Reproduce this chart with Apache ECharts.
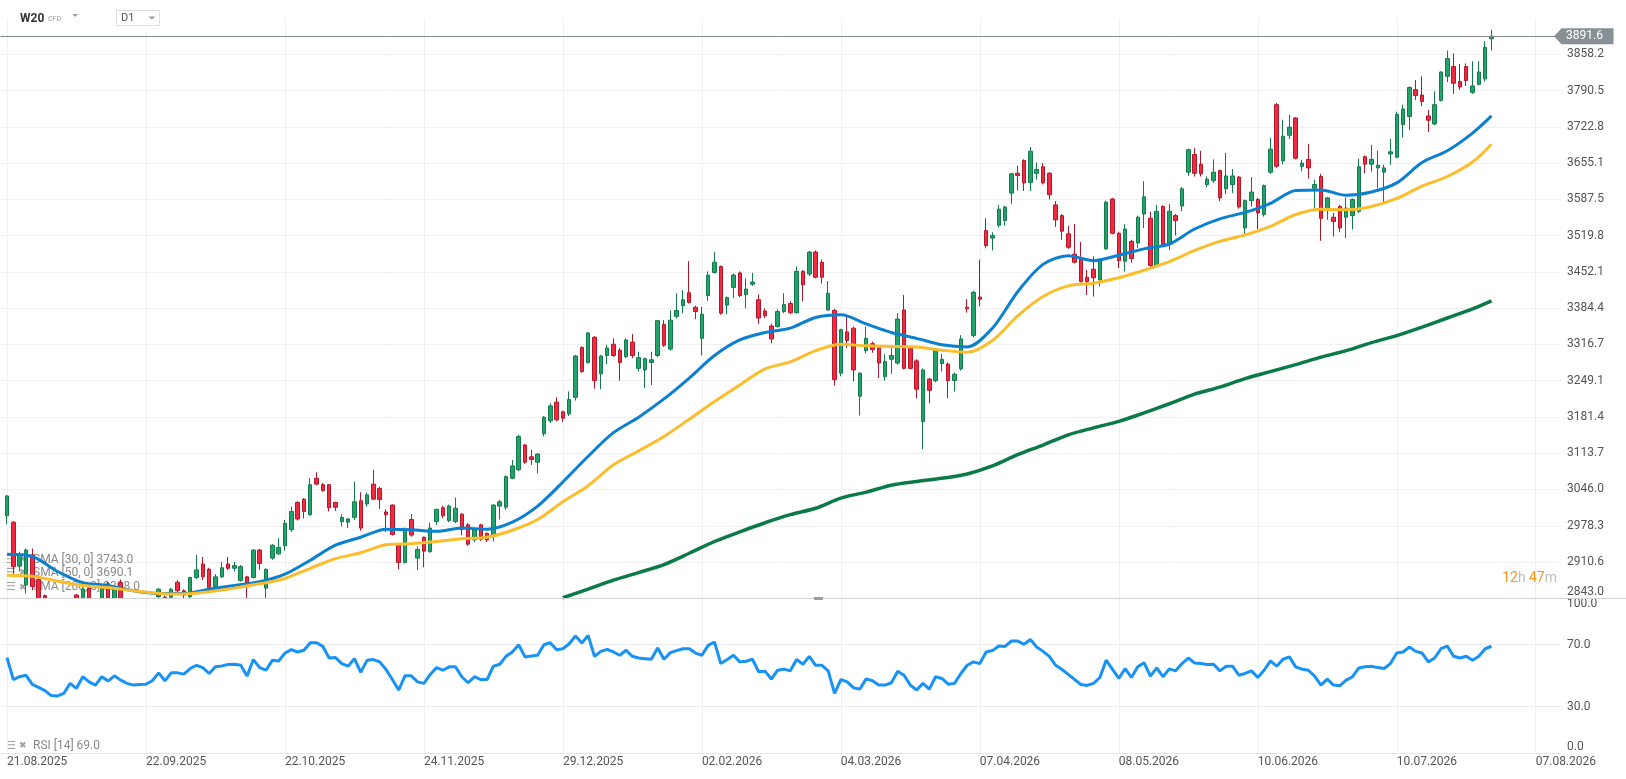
<!DOCTYPE html>
<html>
<head>
<meta charset="utf-8">
<title>W20 D1</title>
<script src="https://cdn.jsdelivr.net/npm/echarts/dist/echarts.min.js"></script>
<style>
  html, body { margin: 0; padding: 0; background: #fff; }
  #chart { width: 1626px; height: 779px; }
</style>
</head>
<body>
<div id="chart"></div>
<script>
// W20 CFD, daily candles 21.08.2025 - 31.07.2026, with SMA 30/50/200 and RSI 14

// [open, close, low, high]
const candles = [
  [2997, 3034, 2981, 3036], [2985, 2902, 2883, 2987], [2903, 2923, 2893, 2930], [2868, 2933, 2852, 2936],
  [2924, 2865, 2858, 2936], [2878, 2835, 2820, 2882], [2848, 2832, 2822, 2850], [2835, 2822, 2810, 2840],
  [2822, 2830, 2812, 2838], [2830, 2818, 2808, 2836], [2818, 2832, 2811, 2840], [2849, 2830, 2822, 2851],
  [2828, 2860, 2825, 2863], [2862, 2835, 2830, 2864], [2835, 2840, 2825, 2842], [2838, 2865, 2832, 2866],
  [2870, 2840, 2835, 2874], [2840, 2864, 2836, 2866], [2872, 2838, 2832, 2878], [2838, 2830, 2822, 2842],
  [2830, 2826, 2818, 2836], [2826, 2834, 2820, 2840], [2834, 2829, 2822, 2838], [2829, 2838, 2825, 2841],
  [2846, 2860, 2843, 2862], [2845, 2838, 2832, 2848], [2845, 2860, 2840, 2862], [2873, 2857, 2852, 2877],
  [2857, 2849, 2843, 2860], [2846, 2882, 2843, 2883], [2882, 2896, 2879, 2924], [2907, 2883, 2877, 2920],
  [2897, 2863, 2858, 2900], [2865, 2883, 2862, 2888], [2883, 2900, 2881, 2911], [2907, 2899, 2896, 2920],
  [2899, 2904, 2893, 2911], [2876, 2902, 2874, 2905], [2883, 2865, 2843, 2885], [2882, 2933, 2880, 2934],
  [2933, 2908, 2896, 2935], [2862, 2897, 2843, 2899], [2918, 2942, 2915, 2944], [2926, 2938, 2924, 2955],
  [2941, 2983, 2932, 2989], [2971, 3005, 2967, 3014], [3022, 2991, 2988, 3024], [3028, 3005, 2992, 3030],
  [2999, 3055, 2997, 3067], [3067, 3056, 3054, 3078], [3055, 3044, 3042, 3058], [3055, 3012, 3005, 3056],
  [3022, 3013, 3006, 3023], [2986, 2994, 2977, 3000], [2985, 2991, 2974, 2993], [2994, 3023, 2989, 3061],
  [3025, 2974, 2969, 3041], [3019, 3036, 3014, 3040], [3056, 3028, 3027, 3083], [3048, 3027, 3010, 3051],
  [3004, 2999, 2967, 3009], [3017, 2962, 2960, 3018], [2943, 2910, 2897, 2945], [2910, 2972, 2908, 2975],
  [2990, 2961, 2958, 3000], [2918, 2934, 2896, 2940], [2957, 2931, 2901, 2958], [2930, 2974, 2928, 2984],
  [2986, 3009, 2980, 3010], [3012, 2997, 2993, 3016], [2988, 3015, 2985, 3018], [2986, 3011, 2983, 3031],
  [3000, 2972, 2961, 3002], [2980, 2944, 2941, 2983], [2952, 2971, 2948, 2974], [2980, 2953, 2950, 2982],
  [2964, 2952, 2948, 2966], [2961, 3017, 2949, 3018], [3015, 3023, 2990, 3027], [3013, 3070, 3008, 3072],
  [3067, 3090, 3065, 3101], [3083, 3145, 3080, 3148], [3129, 3097, 3094, 3131], [3107, 3102, 3092, 3120],
  [3097, 3112, 3076, 3114], [3150, 3181, 3145, 3183], [3174, 3202, 3170, 3207], [3209, 3176, 3173, 3218],
  [3191, 3179, 3172, 3193], [3187, 3214, 3183, 3229], [3218, 3295, 3212, 3297], [3311, 3266, 3264, 3313],
  [3283, 3338, 3281, 3340], [3330, 3249, 3234, 3332], [3262, 3295, 3233, 3297], [3296, 3310, 3280, 3316],
  [3317, 3296, 3293, 3328], [3306, 3283, 3249, 3310], [3294, 3325, 3291, 3328], [3321, 3296, 3291, 3336],
  [3272, 3292, 3266, 3303], [3269, 3290, 3235, 3292], [3283, 3288, 3241, 3303], [3296, 3361, 3293, 3362],
  [3354, 3315, 3312, 3362], [3308, 3362, 3305, 3380], [3369, 3380, 3365, 3412], [3389, 3400, 3375, 3418],
  [3413, 3395, 3393, 3472], [3386, 3378, 3364, 3389], [3328, 3373, 3296, 3387], [3408, 3446, 3398, 3453],
  [3451, 3470, 3449, 3489], [3462, 3375, 3372, 3464], [3390, 3404, 3373, 3406], [3423, 3446, 3403, 3449],
  [3450, 3408, 3405, 3453], [3410, 3420, 3384, 3440], [3429, 3433, 3426, 3450], [3400, 3366, 3355, 3410],
  [3379, 3370, 3366, 3384], [3351, 3327, 3319, 3355], [3350, 3378, 3348, 3382], [3378, 3391, 3375, 3412],
  [3393, 3376, 3373, 3397], [3376, 3453, 3374, 3462], [3453, 3428, 3397, 3455], [3448, 3489, 3444, 3491],
  [3489, 3442, 3440, 3492], [3470, 3442, 3430, 3475], [3381, 3412, 3379, 3435], [3380, 3251, 3240, 3383],
  [3263, 3344, 3257, 3346], [3340, 3324, 3310, 3372], [3347, 3269, 3248, 3350], [3220, 3263, 3184, 3265],
  [3305, 3328, 3300, 3350], [3318, 3307, 3301, 3322], [3310, 3282, 3254, 3313], [3257, 3285, 3249, 3299],
  [3289, 3296, 3262, 3310], [3282, 3364, 3279, 3375], [3381, 3272, 3270, 3409], [3310, 3272, 3270, 3313],
  [3286, 3233, 3216, 3289], [3173, 3269, 3121, 3272], [3252, 3231, 3207, 3254], [3249, 3308, 3246, 3310],
  [3281, 3289, 3266, 3299], [3280, 3249, 3216, 3283], [3249, 3261, 3229, 3264], [3271, 3327, 3268, 3334],
  [3386, 3383, 3376, 3401], [3333, 3414, 3330, 3417], [3405, 3401, 3388, 3475], [3529, 3501, 3496, 3552],
  [3515, 3520, 3492, 3526], [3539, 3569, 3535, 3577], [3548, 3573, 3538, 3575], [3599, 3635, 3579, 3637],
  [3636, 3632, 3604, 3650], [3660, 3618, 3603, 3662], [3619, 3677, 3603, 3685], [3636, 3643, 3624, 3656],
  [3648, 3618, 3615, 3655], [3636, 3596, 3587, 3638], [3577, 3549, 3536, 3584], [3557, 3528, 3512, 3560],
  [3523, 3498, 3495, 3538], [3485, 3470, 3468, 3541], [3477, 3434, 3432, 3508], [3442, 3434, 3409, 3456],
  [3457, 3441, 3406, 3481], [3437, 3475, 3425, 3478], [3495, 3582, 3493, 3585], [3588, 3524, 3522, 3590],
  [3524, 3473, 3459, 3527], [3472, 3532, 3453, 3541], [3509, 3477, 3469, 3512], [3506, 3554, 3497, 3557],
  [3560, 3592, 3534, 3621], [3552, 3464, 3460, 3564], [3464, 3565, 3462, 3577], [3574, 3503, 3500, 3576],
  [3503, 3565, 3493, 3579], [3557, 3548, 3520, 3560], [3575, 3607, 3565, 3610], [3638, 3680, 3631, 3682],
  [3671, 3636, 3630, 3683], [3653, 3635, 3630, 3678], [3615, 3625, 3610, 3630], [3622, 3638, 3618, 3662],
  [3641, 3590, 3584, 3643], [3607, 3631, 3597, 3674], [3615, 3631, 3599, 3644], [3629, 3573, 3570, 3631],
  [3534, 3585, 3518, 3587], [3585, 3601, 3574, 3629], [3587, 3562, 3532, 3590], [3559, 3613, 3555, 3615],
  [3638, 3681, 3635, 3702], [3764, 3649, 3646, 3767], [3659, 3705, 3653, 3736], [3707, 3722, 3700, 3745],
  [3739, 3664, 3662, 3741], [3649, 3655, 3640, 3661], [3662, 3646, 3626, 3691], [3608, 3615, 3571, 3624],
  [3630, 3552, 3510, 3635], [3570, 3590, 3549, 3592], [3554, 3546, 3518, 3562], [3574, 3534, 3526, 3577],
  [3554, 3571, 3515, 3591], [3557, 3587, 3531, 3589], [3565, 3648, 3562, 3663], [3667, 3653, 3636, 3669],
  [3653, 3662, 3639, 3689], [3646, 3651, 3608, 3678], [3638, 3646, 3580, 3652], [3672, 3676, 3652, 3700],
  [3666, 3746, 3664, 3751], [3727, 3756, 3703, 3764], [3742, 3796, 3717, 3798], [3792, 3781, 3773, 3810],
  [3782, 3770, 3761, 3817], [3743, 3735, 3713, 3754], [3728, 3764, 3726, 3789], [3772, 3825, 3770, 3826],
  [3817, 3850, 3806, 3865], [3835, 3804, 3784, 3860], [3807, 3797, 3792, 3840], [3835, 3809, 3799, 3841],
  [3787, 3799, 3784, 3845], [3802, 3825, 3800, 3845], [3812, 3871, 3807, 3882], [3887, 3891.6, 3865, 3904]
];

const rsi = [
  61.7, 47.5, 49.3, 50.3, 44.3, 42.4, 40.3, 37.1, 36.9, 38.6, 45.0, 41.8, 49.3, 46.0, 43.9, 49.3,
  46.5, 49.9, 47.1, 45.0, 43.9, 44.3, 44.5, 46.7, 51.8, 46.7, 51.8, 51.8, 51.0, 54.6, 56.7, 55.2,
  51.4, 55.7, 56.3, 57.2, 57.4, 56.7, 49.7, 60.4, 55.2, 53.5, 59.9, 59.5, 64.6, 66.8, 65.3, 66.4,
  71.3, 71.3, 68.9, 61.4, 61.7, 57.8, 56.1, 61.0, 52.2, 59.9, 60.4, 58.9, 54.0, 47.5, 40.7, 49.9,
  49.9, 46.0, 45.0, 50.8, 55.2, 53.5, 55.7, 55.7, 49.3, 45.4, 49.3, 47.5, 47.5, 56.1, 57.4, 62.5,
  65.3, 70.0, 62.1, 62.7, 63.2, 70.0, 71.3, 66.8, 67.4, 70.6, 75.6, 71.1, 76.0, 62.5, 65.7, 67.0,
  65.3, 63.2, 66.4, 62.5, 61.4, 61.0, 60.6, 67.9, 60.6, 64.9, 66.2, 67.4, 67.4, 64.6, 63.2, 69.6,
  71.7, 57.8, 60.4, 63.2, 58.9, 59.3, 60.6, 52.5, 52.9, 47.8, 53.5, 54.2, 53.1, 60.4, 57.4, 62.5,
  56.7, 56.7, 53.1, 38.6, 47.5, 46.0, 42.2, 41.3, 47.9, 46.7, 43.9, 43.9, 45.4, 52.9, 50.3, 43.9,
  40.7, 45.0, 41.3, 49.3, 48.2, 44.5, 45.0, 51.4, 56.7, 58.9, 57.8, 65.3, 66.2, 69.2, 68.9, 72.4,
  72.4, 70.2, 73.4, 68.5, 65.7, 62.5, 56.7, 54.0, 50.8, 47.5, 44.3, 43.7, 45.0, 48.8, 60.0, 54.0,
  48.2, 54.6, 48.8, 55.7, 58.4, 49.7, 55.0, 49.3, 54.4, 53.1, 57.8, 61.4, 58.2, 57.8, 57.2, 57.4,
  53.1, 56.1, 56.1, 50.3, 51.4, 53.1, 48.8, 53.5, 59.5, 56.1, 60.6, 62.1, 55.7, 54.2, 53.5, 49.7,
  43.9, 47.8, 43.9, 43.5, 47.1, 49.3, 55.0, 55.7, 56.1, 55.2, 54.6, 57.8, 64.6, 65.3, 68.5, 65.7,
  64.6, 58.9, 61.4, 67.4, 69.1, 62.5, 61.4, 62.5, 60.0, 62.5, 67.4, 69.0
];

// moving averages read every 4th candle (candle index in maIdx)
const maIdx = [0, 4, 8, 12, 16, 20, 24, 28, 32, 36, 40, 44, 48, 52, 56, 60, 64, 68, 72, 76,
  80, 84, 88, 92, 96, 100, 104, 108, 112, 116, 120, 124, 128, 132, 136, 140, 144, 148, 152, 156,
  160, 164, 168, 172, 176, 180, 184, 188, 192, 196, 200, 204, 208, 212, 216, 220, 224, 228, 232, 235];
const sma30 = [2925, 2921, 2893, 2872, 2867, 2857, 2852, 2852, 2860, 2867, 2874, 2888, 2914, 2942, 2957, 2972, 2971, 2968, 2974, 2972,
  2985, 3015, 3060, 3108, 3152, 3181, 3215, 3254, 3296, 3325, 3339, 3347, 3367, 3372, 3355, 3339, 3328, 3316, 3312, 3347,
  3415, 3466, 3482, 3473, 3483, 3495, 3504, 3532, 3551, 3563, 3580, 3604, 3605, 3595, 3601, 3618, 3656, 3678, 3711, 3743.0];
const sma50 = [2886, 2884, 2875, 2867, 2863, 2857, 2852, 2851, 2855, 2862, 2870, 2880, 2899, 2917, 2928, 2943, 2945, 2949, 2954, 2957,
  2970, 2990, 3023, 3053, 3092, 3118, 3145, 3177, 3210, 3241, 3271, 3284, 3305, 3317, 3314, 3313, 3312, 3306, 3302, 3324,
  3370, 3406, 3426, 3431, 3441, 3455, 3471, 3492, 3509, 3521, 3537, 3559, 3569, 3568, 3574, 3589, 3612, 3630, 3657, 3690.1];
const sma200 = [null, null, null, null, null, null, null, null, null, null, null, null, null, null, null, null, null, null, null, null,
  null, null, 2844, 2860, 2877, 2891, 2906, 2927, 2949, 2967, 2984, 2999, 3011, 3030, 3041, 3054, 3061, 3067, 3075, 3090,
  3111, 3129, 3148, 3161, 3173, 3189, 3206, 3224, 3237, 3253, 3266, 3279, 3293, 3305, 3320, 3333, 3349, 3366, 3383, 3398.0];

const priceTicks = ['2843.0', '2910.6', '2978.3', '3046.0', '3113.7', '3181.4', '3249.1', '3316.7',
  '3384.4', '3452.1', '3519.8', '3587.5', '3655.1', '3722.8', '3790.5', '3858.2'];
const priceMin = 2843.0;
const priceStep = 67.67;
const priceMax = 3925.7;
const rsiTicks = { 0: '0.0', 30: '30.0', 70: '70.0', 100: '100.0' };
const rsiGuides = [30, 70];
const dateTicks = ['21.08.2025', '22.09.2025', '22.10.2025', '24.11.2025', '29.12.2025', '02.02.2026',
  '04.03.2026', '07.04.2026', '08.05.2026', '10.06.2026', '10.07.2026', '07.08.2026'];
const tickEvery = 22;

// WSE closed days in range
const holidays = ['2025-11-11', '2025-12-24', '2025-12-25', '2025-12-26', '2025-12-31', '2026-01-01',
  '2026-01-06', '2026-04-03', '2026-04-06', '2026-05-01', '2026-06-04'];

function tradingDays(startIso, count) {
  const out = [];
  const d = new Date(startIso + 'T00:00:00Z');
  while (out.length < count) {
    const iso = d.toISOString().slice(0, 10);
    const wd = d.getUTCDay();
    if (wd !== 0 && wd !== 6 && holidays.indexOf(iso) < 0) {
      out.push(iso.slice(8, 10) + '.' + iso.slice(5, 7) + '.' + iso.slice(0, 4));
    }
    d.setUTCDate(d.getUTCDate() + 1);
  }
  return out;
}

// slot 0 is an empty day before the first candle, slots after the last candle stay empty
const SLOTS = 248;
const dates = tradingDays('2025-08-20', SLOTS);

const isTick = (idx) => idx >= 1 && (idx - 1) % tickEvery === 0;
const lastClose = candles[candles.length - 1][1];

function maData(values) {
  const out = [];
  maIdx.forEach((i, k) => {
    if (values[k] != null) out.push([i + 1, values[k]]);
  });
  return out;
}

const gridLine = '#f0f0f0';
const labelColor = '#555';
const font = 'Roboto, "Open Sans", sans-serif';

// RSI axis ticks every 10, only the 30 and 70 lines are drawn
const rsiLineColors = [];
for (let v = 0; v <= 100; v += 10) {
  rsiLineColors.push(rsiGuides.indexOf(v) >= 0 ? '#ececec' : 'rgba(0,0,0,0)');
}

const chart = echarts.init(document.getElementById('chart'));

chart.setOption({
  animation: false,
  backgroundColor: '#fff',
  textStyle: { fontFamily: font },
  grid: [
    { left: 0.68, right: 65, top: 18, height: 580.3, containLabel: false, outerBoundsMode: 'none' },
    { left: 0.68, right: 65, top: 598.3, height: 154.7, containLabel: false, outerBoundsMode: 'none' }
  ],
  xAxis: [
    {
      type: 'category',
      gridIndex: 0,
      data: dates,
      boundaryGap: false,
      axisLine: { show: false },
      axisTick: { show: false },
      axisLabel: { show: false },
      splitLine: { show: true, interval: (idx) => isTick(idx), lineStyle: { color: gridLine, width: 1 } }
    },
    {
      type: 'category',
      gridIndex: 1,
      z: 2,
      data: dates,
      boundaryGap: false,
      axisLine: { show: true, lineStyle: { color: '#e6e6e6', width: 1 } },
      axisTick: { show: false },
      axisLabel: {
        show: true,
        interval: (idx) => isTick(idx),
        formatter: (val, idx) => dateTicks[(idx - 1) / tickEvery] || '',
        color: labelColor,
        fontSize: 12,
        fontFamily: font,
        align: 'left',
        margin: 3
      },
      splitLine: { show: true, interval: (idx) => isTick(idx), lineStyle: { color: gridLine, width: 1 } }
    }
  ],
  yAxis: [
    {
      type: 'value',
      gridIndex: 0,
      position: 'right',
      min: priceMin,
      max: priceMax,
      interval: priceStep,
      scale: true,
      axisLine: { show: false },
      axisTick: { show: false },
      axisLabel: {
        color: labelColor,
        fontSize: 12,
        fontFamily: font,
        margin: 6,
        showMinLabel: true,
        showMaxLabel: false,
        verticalAlignMinLabel: 'bottom',
        formatter: (v) => priceTicks[Math.round((v - priceMin) / priceStep)] || ''
      },
      splitLine: { show: true, showMinLine: false, showMaxLine: false, lineStyle: { color: gridLine, width: 1 } }
    },
    {
      type: 'value',
      gridIndex: 1,
      position: 'right',
      min: 0,
      max: 100,
      interval: 10,
      axisLine: { show: false },
      axisTick: { show: false },
      axisLabel: {
        color: labelColor,
        fontSize: 12,
        fontFamily: font,
        margin: 6,
        showMinLabel: true,
        showMaxLabel: true,
        verticalAlignMinLabel: 'bottom',
        verticalAlignMaxLabel: 'top',
        formatter: (v) => rsiTicks[Math.round(v)] || ''
      },
      splitLine: { show: true, showMinLine: true, showMaxLine: true, lineStyle: { color: rsiLineColors, width: 1 } }
    }
  ],
  series: [
    {
      name: 'W20',
      type: 'candlestick',
      xAxisIndex: 0,
      yAxisIndex: 0,
      barWidth: 4,
      clip: true,
      z: 1,
      data: [['-', '-', '-', '-']].concat(candles),
      itemStyle: {
        color: '#22a36b',
        color0: '#f12a40',
        borderColor: '#137a4b',
        borderColor0: '#b3172b',
        borderWidth: 1
      },
      markLine: {
        silent: true,
        symbol: 'none',
        label: { show: false },
        lineStyle: { color: '#7f898d', width: 1, type: 'solid' },
        data: [{ yAxis: lastClose }]
      }
    },
    {
      name: 'SMA 30',
      type: 'line',
      xAxisIndex: 0,
      yAxisIndex: 0,
      data: maData(sma30),
      smooth: 0.3,
      showSymbol: false,
      clip: true,
      z: 2,
      lineStyle: { color: '#0b7fd0', width: 3 }
    },
    {
      name: 'SMA 50',
      type: 'line',
      xAxisIndex: 0,
      yAxisIndex: 0,
      data: maData(sma50),
      smooth: 0.3,
      showSymbol: false,
      clip: true,
      z: 2,
      lineStyle: { color: '#fbbd2c', width: 3 }
    },
    {
      name: 'SMA 200',
      type: 'line',
      xAxisIndex: 0,
      yAxisIndex: 0,
      data: maData(sma200),
      smooth: 0.3,
      showSymbol: false,
      clip: true,
      z: 2,
      lineStyle: { color: '#0a7a48', width: 3.5 }
    },
    {
      name: 'RSI 14',
      type: 'line',
      xAxisIndex: 1,
      yAxisIndex: 1,
      data: ['-'].concat(rsi),
      showSymbol: false,
      z: 3,
      lineStyle: { color: '#1893f5', width: 3 }
    }
  ]
});

// overlay: header, legends, price tag, countdown
const py = chart.convertToPixel({ yAxisIndex: 0 }, lastClose);
const legendRows = [
  ['SMA [30, 0] ' + sma30[sma30.length - 1].toFixed(1), 559.7],
  ['SMA [50, 0] ' + sma50[sma50.length - 1].toFixed(1), 573],
  ['SMA [200, 0] ' + sma200[sma200.length - 1].toFixed(1), 587.3],
  ['RSI [14] ' + rsi[rsi.length - 1].toFixed(1), 745.7]
];

const graphics = [];
legendRows.forEach(([txt, y]) => {
  graphics.push(
    { type: 'text', z: 0.5, x: 6, y: y, style: { text: '\u2630', fill: '#a0a0a0', font: '11px "DejaVu Sans"', verticalAlign: 'middle' } },
    { type: 'text', z: 0.5, x: 19, y: y, style: { text: '\u2716', fill: '#a0a0a0', font: '9px "DejaVu Sans"', verticalAlign: 'middle' } },
    { type: 'text', z: 0.5, x: 33, y: y, style: { text: txt, fill: '#8a8a8a', font: '12px ' + font, verticalAlign: 'middle' } }
  );
});

graphics.push(
  // hides the part of the low candles that runs past the bottom of the price pane
  { type: 'rect', z: 1.5, shape: { x: 0, y: 599, width: 220, height: 30 }, style: { fill: '#fff' } },
  // header
  { type: 'rect', z: 10, shape: { x: 0, y: 0, width: 170, height: 17 }, style: { fill: '#fff' } },
  { type: 'rect', z: 10, shape: { x: 112, y: 17, width: 52, height: 15 }, style: { fill: '#fff' } },
  { type: 'text', z: 11, x: 20, y: 19, style: { text: 'W20', fill: '#333', font: 'bold 12px ' + font, verticalAlign: 'middle' } },
  { type: 'text', z: 11, x: 48, y: 19.5, style: { text: 'CFD', fill: '#999', font: '7px ' + font, verticalAlign: 'middle' } },
  { type: 'polygon', z: 11, shape: { points: [[72.5, 14], [78, 14], [75.2, 17]] }, style: { fill: '#999' } },
  { type: 'rect', z: 11, shape: { x: 116.5, y: 10.5, width: 43, height: 15 }, style: { fill: '#fff', stroke: '#dedede', lineWidth: 1 } },
  { type: 'text', z: 12, x: 121, y: 18.5, style: { text: 'D1', fill: '#555', font: '11px ' + font, verticalAlign: 'middle' } },
  { type: 'polygon', z: 12, shape: { points: [[148.3, 16.5], [155.5, 16.5], [151.9, 19.5]] }, style: { fill: '#999' } },
  // pane separator and its handle
  { type: 'line', z: 5, shape: { x1: 0, y1: 598.5, x2: 1626, y2: 598.5 }, style: { stroke: '#d4d4d4', lineWidth: 1 } },
  { type: 'rect', z: 6, shape: { x: 814, y: 597, width: 9, height: 3 }, style: { fill: '#9c9c9c' } },
  // last price tag
  { type: 'polygon', z: 10, shape: { points: [[1554, py], [1561.5, py - 8], [1613.5, py - 8], [1613.5, py + 8], [1561.5, py + 8]] }, style: { fill: '#879094' } },
  { type: 'text', z: 11, x: 1566, y: py, style: { text: lastClose.toFixed(1), fill: '#fff', font: '12px ' + font, verticalAlign: 'middle' } },
  // candle countdown
  {
    type: 'text', z: 10, x: 1557, y: 578,
    style: {
      text: '{o|12}{g|h} {o|47}{g|m}',
      align: 'right',
      verticalAlign: 'middle',
      rich: {
        o: { fill: '#f7931e', font: '14px ' + font },
        g: { fill: '#bdbdbd', font: '14px ' + font }
      }
    }
  }
);

chart.setOption({ graphic: graphics });
</script>
</body>
</html>
